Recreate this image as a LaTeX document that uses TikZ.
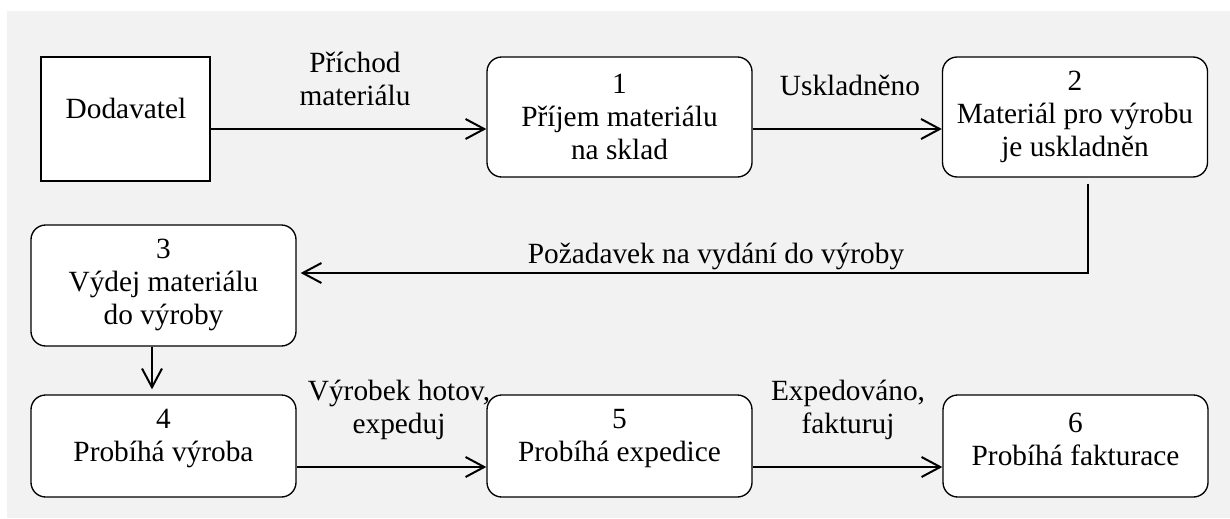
\documentclass[tikz,border=0pt]{standalone}
\usepackage{fontspec}
\setmainfont{Liberation Serif}
\usetikzlibrary{arrows.meta}
\definecolor{panel}{HTML}{F2F2F2}
\begin{document}
\begin{tikzpicture}[x=0.75pt,y=-0.75pt,
  procbox/.style={draw, line width=1pt, rounded corners=11pt, fill=white,
    minimum width=265*0.75pt, inner sep=0pt},
  agentbox/.style={draw, line width=1pt, fill=white,
    minimum width=169*0.75pt, minimum height=124*0.75pt, inner sep=0pt},
  boxtext/.style={align=center, font=\fontsize{22pt}{24.75pt}\selectfont, inner sep=0pt},
  flow/.style={line width=1.5pt, -{Straight Barb[length=14pt,width=15pt]}},
]
% canvas and grey panel
\useasboundingbox (0,0) rectangle (1230,518);
\fill[white] (0,0) rectangle (1230,518);
\fill[panel] (7,11) rectangle (1230,518);

% external entity
\node[agentbox] (dod) at (125.5,119) {};
\node[boxtext] (dodt) at (126,108) {Dodavatel};

% processes
\node[procbox, minimum height=120*0.75pt] (b1) at (619.5,117) {};
\node[boxtext] (b1t) at (619.5,117) {1\\Příjem materiálu\\na sklad};

\node[procbox, minimum height=120*0.75pt] (b2) at (1075,117) {};
\node[boxtext] (b2t) at (1075,117) {2\\Materiál pro výrobu\\je uskladněn};

\node[procbox, minimum height=121*0.75pt] (b3) at (163.5,285.5) {};
\node[boxtext] (b3t) at (163.5,285) {3\\Výdej materiálu\\do výroby};

\node[procbox, minimum height=102*0.75pt] (b4) at (163.5,446) {};
\node[boxtext] (b4t) at (163.5,439) {4\\Probíhá výroba};

\node[procbox, minimum height=102*0.75pt] (b5) at (619.5,446) {};
\node[boxtext] (b5t) at (619.5,439) {5\\Probíhá expedice};

\node[procbox, minimum height=102*0.75pt] (b6) at (1075.5,446) {};
\node[boxtext] (b6t) at (1075.5,439) {6\\Probíhá fakturace};

% flow rows and the return column
\coordinate (r1) at (0,129);
\coordinate (r2) at (0,273);
\coordinate (r3) at (0,467);
\coordinate (c1) at (1088,0);
\coordinate (c2) at (152,0);

\draw[flow] (dod.east |- r1) -- (b1.west |- r1);
\draw[flow] (b1.east |- r1) -- (b2.west |- r1);
\draw[flow, shorten >=3pt] ([yshift=-4.5pt]b2.south -| c1) -- (c1 |- r2) -- (b3.east |- r2);
\draw[flow, shorten >=3.75pt] (b3.south -| c2) -- (b4.north -| c2);
\draw[flow] (b4.east |- r3) -- (b5.west |- r3);
\draw[flow] (b5.east |- r3) -- (b6.west |- r3);

% flow labels
\node[boxtext] (l1) at (355,79) {Příchod\\materiálu};
\node[boxtext] (l2) at (850,85) {Uskladněno};
\node[boxtext] (l3) at (716,256) {Požadavek na vydání do výroby};
\node[boxtext] (l4) at (399,410) {Výrobek hotov,\\expeduj};
\node[boxtext] (l5) at (848,410) {Expedováno,\\fakturuj};
\end{tikzpicture}
\end{document}
